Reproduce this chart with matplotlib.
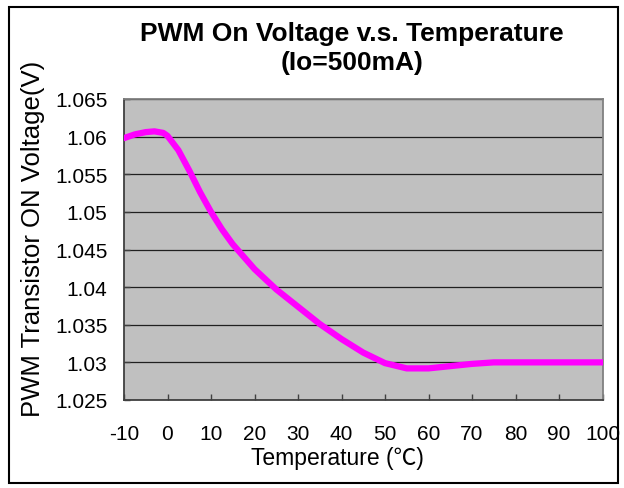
import matplotlib
matplotlib.use("Agg")
import matplotlib.pyplot as plt
import matplotlib.patches as mpatches

# Readings (temperature in degC, on-voltage in V)
TEMPS = [-10, -7.5, -5, -3, -1, 0, 2.5, 5, 7.5, 10, 12.5, 15, 20, 25, 30, 35, 40, 45,
         50, 55, 60, 65, 70, 75, 100]
VOLTS = [1.0598, 1.0603, 1.0606, 1.0607, 1.0605, 1.0601, 1.0582, 1.0555, 1.0526,
         1.0500, 1.0477, 1.0457, 1.0424, 1.0397, 1.0374, 1.0351, 1.0331, 1.0313,
         1.0299, 1.0292, 1.0292, 1.0295, 1.0298, 1.0300, 1.0300]

X_TICKS = list(range(-10, 101, 10))
Y_TICKS = [1.025, 1.03, 1.035, 1.04, 1.045, 1.05, 1.055, 1.06, 1.065]
Y_TICK_LABELS = ["1.025", "1.03", "1.035", "1.04", "1.045", "1.05", "1.055", "1.06", "1.065"]

TITLE = "PWM On Voltage v.s. Temperature\n(Io=500mA)"
XLABEL = "Temperature (\u2103)"
YLABEL = "PWM Transistor ON Voltage(V)"

plt.rcParams["font.family"] = ["Liberation Sans", "Noto Sans CJK SC", "DejaVu Sans"]
plt.rcParams["axes.unicode_minus"] = False

W, H = 624, 489
fig = plt.figure(figsize=(W / 100, H / 100), dpi=100)
ax = fig.add_axes([124 / W, 1 - 401 / H, (602.5 - 124) / W, (401 - 100) / H])

ax.set_facecolor("#C0C0C0")
ax.plot(TEMPS, VOLTS, color="#FF00FF", linewidth=4.5, solid_capstyle="round",
        solid_joinstyle="round", zorder=3)

ax.set_xlim(-10, 100)
ax.set_ylim(1.025, 1.065)
ax.set_xticks(X_TICKS)
ax.set_yticks(Y_TICKS)
ax.set_yticklabels(Y_TICK_LABELS)
ax.tick_params(axis="both", direction="in", length=4, width=1, color="#404040",
               labelsize=15)
ax.tick_params(axis="x", pad=17)
ax.tick_params(axis="y", pad=12)
ax.grid(axis="y", color="#202020", linewidth=0.9, zorder=1)
ax.set_axisbelow(True)

for side in ("left", "bottom"):
    ax.spines[side].set_color("#404040")
    ax.spines[side].set_linewidth(1.3)
for side in ("top", "right"):
    ax.spines[side].set_color("#808080")
    ax.spines[side].set_linewidth(1.3)

fig.text(352 / W, 1 - 48.5 / H, TITLE, ha="center", va="center",
         fontsize=19, fontweight="bold", linespacing=1.3)
fig.text(337 / W, 1 - 459 / H, XLABEL, ha="center", va="center", fontsize=16.5)
fig.text(33 / W, 1 - 239 / H, YLABEL, ha="center", va="center", rotation=90,
         fontsize=18.5)

# outer chart frame
fig.patches.append(mpatches.Rectangle((9 / W, 1 - 484 / H), (618 - 9) / W, (484 - 8) / H,
                                      transform=fig.transFigure, fill=False,
                                      edgecolor="black", linewidth=1.5))

fig.savefig("out.png", dpi=100)
